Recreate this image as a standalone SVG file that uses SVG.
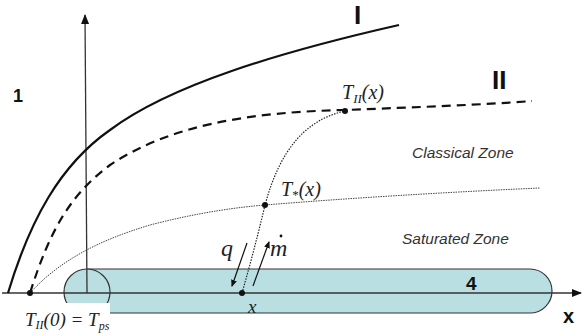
<svg xmlns="http://www.w3.org/2000/svg" width="585" height="335" viewBox="0 0 585 335">
<style>
.ax{stroke:#333;stroke-width:1.3;fill:none}
.m{font-family:"Liberation Serif",serif;font-style:italic;fill:#222}
.b{font-family:"Liberation Sans",Arial,sans-serif;font-weight:bold;fill:#111}
.z{font-family:"Liberation Sans",Arial,sans-serif;font-style:italic;font-size:15.5px;fill:#333}
.dot{fill:#111}
.rod{fill:#b9dfe3;stroke:#333;stroke-width:1.2}
</style>
<defs>
<marker id="ah" markerWidth="10" markerHeight="8" refX="9" refY="4" orient="auto" markerUnits="userSpaceOnUse">
<path d="M0,0 L10,4 L0,8 Z" fill="#111"/>
</marker>
<marker id="sa" markerWidth="7" markerHeight="6" refX="6" refY="3" orient="auto" markerUnits="userSpaceOnUse">
<path d="M0,0 L7,3 L0,6 Z" fill="#111"/>
</marker>
</defs>
<g id="rod">
<path class="rod" d="M87,269 H530 A22,22 0 0 1 530,313 H87 Z"/>
<circle class="rod" cx="87" cy="292" r="23"/>
<rect x="20" y="303" width="90" height="32" fill="#fff"/>
<text class="b" x="466" y="290" font-size="19">4</text>
</g>
<g id="axes">
<line class="ax" x1="2" y1="293" x2="581" y2="293" marker-end="url(#ah)"/>
<line class="ax" x1="87" y1="293" x2="85" y2="15" marker-end="url(#ah)"/>
<text class="b" x="563" y="323" font-size="20">x</text>
<text class="b" x="13" y="102" font-size="18">1</text>
</g>
<g id="curves">
<path d="M8,293 C30,220 60,165 110,130 C170,85 280,52 399,25" fill="none" stroke="#111" stroke-width="2.2"/>
<path d="M30,293 C50,230 70,195 110,165 C170,125 250,112 345,110 C420,107 480,105 532,101" fill="none" stroke="#111" stroke-width="2.2" stroke-dasharray="9,6"/>
<path d="M30,293 C60,260 100,240 150,225 C200,212 240,207 265,205 C350,198 450,192 540,188" fill="none" stroke="#444" stroke-width="1" stroke-dasharray="1.5,1"/>
<path d="M242,293 C250,265 258,235 265,205 C280,150 305,120 345,111" fill="none" stroke="#222" stroke-width="1.2" stroke-dasharray="1.5,1.3"/>
<line x1="247" y1="243" x2="232" y2="286" stroke="#111" stroke-width="1.2" marker-end="url(#sa)"/>
<line x1="253" y1="286" x2="269" y2="242" stroke="#111" stroke-width="1.2" marker-end="url(#sa)"/>
</g>
<g id="points">
<circle class="dot" cx="30" cy="293" r="3"/>
<circle class="dot" cx="242" cy="293" r="3"/>
<circle class="dot" cx="265" cy="205" r="3"/>
<circle class="dot" cx="345" cy="111" r="3"/>
</g>
<g id="labels">
<text class="b" x="354" y="24" font-size="26">I</text>
<text class="b" x="492" y="89" font-size="26">II</text>
<text class="m" x="342" y="99" font-size="20">T<tspan font-size="13" dy="4">II</tspan><tspan dy="-4">(x)</tspan></text>
<text class="m" x="281" y="196" font-size="20">T<tspan font-size="13" dy="3" font-style="normal">*</tspan><tspan dy="-3">(x)</tspan></text>
<text class="m" x="221" y="256" font-size="24">q</text>
<text class="m" x="270" y="256" font-size="24">m</text>
<circle class="dot" cx="281" cy="236" r="1.4"/>
<text class="m" x="248" y="313" font-size="19">x</text>
<text class="m" x="25" y="326" font-size="19">T<tspan font-size="12" dy="3">II</tspan><tspan dy="-3">(0) = T</tspan><tspan font-size="12" dy="4">ps</tspan></text>
<text class="z" x="412" y="158">Classical Zone</text>
<text class="z" x="402" y="244">Saturated Zone</text>
</g>
</svg>
